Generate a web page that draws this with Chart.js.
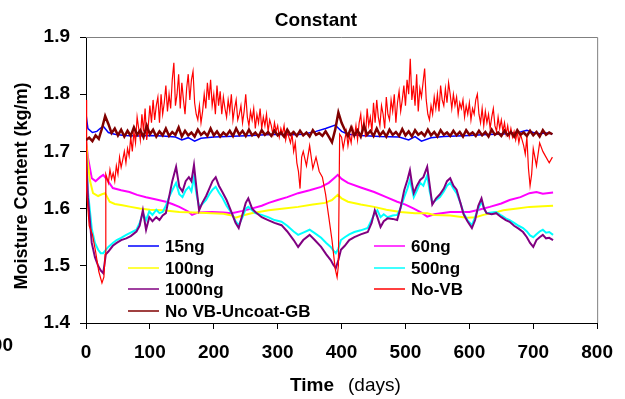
<!DOCTYPE html>
<html>
<head>
<meta charset="utf-8">
<script src="https://cdn.jsdelivr.net/npm/chart.js@4.4.0/dist/chart.umd.min.js"></script>
<style>
  html, body { margin: 0; padding: 0; background: #fff; }
</style>
</head>
<body>
<canvas id="myChart" width="625" height="399"></canvas>
<script>
// values (days, kg/m)
const xTicks = [0, 100, 200, 300, 400, 500, 600, 700, 800];
const yTicks = [1.4, 1.5, 1.6, 1.7, 1.8, 1.9];

// evenly spaced reading days
const grid = (from, to, dx) => Array.from({ length: Math.round((to - from) / dx) + 1 }, (_, i) => from + i * dx);

const days15ng = [
  0, 3, 10, 17, 22, 27, 35, 45, 60, 80,
  100, 120, 140, 150, 160, 170, 180, 200, 220, 240,
  260, 280, 300, 320, 340, 360, 375, 390, 400, 410,
  430, 460, 490, 505, 515, 525, 540, 560, 580, 600,
  620, 640, 660, 680, 690, 700, 710, 720, 730
];
const ng15 = [
  1.765, 1.74, 1.733, 1.735, 1.74, 1.744, 1.733, 1.73, 1.728, 1.727,
  1.728, 1.727, 1.725, 1.72, 1.724, 1.718, 1.723, 1.725, 1.726, 1.727,
  1.728, 1.729, 1.73, 1.729, 1.73, 1.735, 1.74, 1.746, 1.735, 1.73,
  1.728, 1.726, 1.725, 1.72, 1.726, 1.718, 1.724, 1.726, 1.727, 1.728,
  1.729, 1.73, 1.731, 1.734, 1.737, 1.733, 1.731, 1.732, 1.731
];

const days60ng = [
  0, 3, 9, 15, 22, 27, 32, 42, 55, 68,
  80, 94, 110, 125, 135, 146, 160, 166, 175, 197,
  215, 228, 245, 259, 275, 286, 300, 315, 332, 350,
  368, 380, 390, 394, 400, 410, 430, 451, 470, 487,
  500, 513, 525, 534, 545, 570, 585, 600, 615, 632,
  650, 663, 680, 694, 705, 715, 731
];
const ng60 = [
  1.72, 1.69, 1.653, 1.648, 1.655, 1.659, 1.652, 1.636, 1.632, 1.629,
  1.624, 1.62, 1.616, 1.612, 1.608, 1.603, 1.595, 1.589, 1.593, 1.594,
  1.593, 1.592, 1.596, 1.60, 1.605, 1.61, 1.615, 1.62, 1.627, 1.632,
  1.638, 1.645, 1.655, 1.659, 1.652, 1.645, 1.637, 1.629, 1.62, 1.612,
  1.607, 1.60, 1.593, 1.586, 1.59, 1.594, 1.594, 1.594, 1.598, 1.603,
  1.609, 1.615, 1.62, 1.627, 1.629, 1.626, 1.628
];

const days100ng = [
  0, 3, 6, 11, 19, 25, 30, 37, 45, 57,
  70, 84, 100, 120, 146, 170, 197, 215, 228, 234,
  245, 259, 286, 310, 332, 355, 374, 385, 394, 400,
  410, 430, 451, 470, 492, 515, 534, 545, 570, 596,
  610, 622, 640, 653, 675, 694, 715, 731
];
const ng100 = [
  1.72, 1.68, 1.65, 1.627, 1.622, 1.625, 1.627, 1.612, 1.608, 1.606,
  1.603, 1.60, 1.598, 1.597, 1.594, 1.593, 1.592, 1.591, 1.588, 1.584,
  1.588, 1.592, 1.597, 1.60, 1.603, 1.607, 1.61, 1.615, 1.624, 1.618,
  1.612, 1.607, 1.603, 1.598, 1.594, 1.592, 1.592, 1.589, 1.588, 1.584,
  1.585, 1.589, 1.593, 1.597, 1.60, 1.603, 1.604, 1.605
];

// 500ng and 1000ng were read at the same days
const daysTreated = [
  0, 3, 9, 14, 19, 23, 27, 31, 35, 42,
  48, 55, 63, 70, 79, 84, 89, 94, 99, 104,
  110, 115, 120, 125, 130, 135, 141, 146, 151, 156,
  161, 165, 169, 173, 177, 182, 188, 193, 198, 203,
  208, 213, 220, 228, 234, 239, 245, 250, 254, 260,
  265, 275, 285, 295, 306, 315, 325, 332, 340, 350,
  358, 368, 376, 383, 387, 391, 395, 399, 405, 412,
  420, 430, 441, 447, 452, 456, 461, 466, 472, 480,
  487, 492, 498, 503, 507, 510, 513, 518, 523, 528,
  534, 538, 542, 548, 554, 560, 565, 570, 575, 580,
  586, 591, 597, 604, 609, 614, 619, 623, 627, 635,
  642, 650, 657, 663, 670, 677, 684, 690, 695, 700,
  705, 710, 715, 720, 725, 731
];
const ng500 = [
  1.70, 1.63, 1.565, 1.54, 1.528, 1.522, 1.522, 1.528, 1.533, 1.54,
  1.545, 1.549, 1.554, 1.558, 1.563, 1.575, 1.592, 1.58, 1.595, 1.589,
  1.598, 1.592, 1.594, 1.605, 1.62, 1.632, 1.645, 1.625, 1.62, 1.632,
  1.638, 1.63, 1.655, 1.625, 1.603, 1.608, 1.615, 1.625, 1.633, 1.638,
  1.628, 1.62, 1.605, 1.592, 1.578, 1.571, 1.585, 1.60, 1.603, 1.597,
  1.592, 1.589, 1.585, 1.58, 1.577, 1.57, 1.56, 1.554, 1.558, 1.563,
  1.557, 1.549, 1.54, 1.533, 1.527, 1.522, 1.53, 1.545, 1.55, 1.555,
  1.559, 1.562, 1.566, 1.58, 1.592, 1.597, 1.585, 1.59, 1.585, 1.588,
  1.589, 1.60, 1.62, 1.635, 1.65, 1.635, 1.62, 1.632, 1.645, 1.64,
  1.658, 1.63, 1.61, 1.615, 1.62, 1.63, 1.64, 1.645, 1.635, 1.627,
  1.61, 1.592, 1.58, 1.571, 1.585, 1.60, 1.612, 1.60, 1.592, 1.593,
  1.594, 1.588, 1.583, 1.58, 1.575, 1.57, 1.566, 1.56, 1.553, 1.55,
  1.555, 1.56, 1.563, 1.558, 1.559, 1.554
];
const ng1000 = [
  1.70, 1.62, 1.54, 1.515, 1.50, 1.492, 1.487, 1.52, 1.525, 1.535,
  1.54, 1.545, 1.548, 1.552, 1.56, 1.57, 1.597, 1.563, 1.585, 1.578,
  1.585, 1.58, 1.588, 1.592, 1.62, 1.648, 1.673, 1.638, 1.63, 1.648,
  1.655, 1.648, 1.676, 1.635, 1.597, 1.61, 1.622, 1.635, 1.648, 1.655,
  1.64, 1.63, 1.615, 1.593, 1.575, 1.566, 1.59, 1.61, 1.618, 1.60,
  1.594, 1.585, 1.58, 1.575, 1.571, 1.56, 1.545, 1.533, 1.545, 1.554,
  1.545, 1.533, 1.52, 1.51, 1.502, 1.496, 1.51, 1.528, 1.535, 1.545,
  1.55, 1.555, 1.559, 1.575, 1.597, 1.585, 1.568, 1.578, 1.583, 1.582,
  1.58, 1.60, 1.632, 1.65, 1.667, 1.645, 1.627, 1.64, 1.65, 1.655,
  1.673, 1.64, 1.607, 1.618, 1.625, 1.635, 1.648, 1.653, 1.64, 1.633,
  1.61, 1.59, 1.578, 1.566, 1.58, 1.605, 1.618, 1.60, 1.592, 1.59,
  1.592, 1.585, 1.58, 1.577, 1.57, 1.565, 1.559, 1.55, 1.54, 1.533,
  1.545, 1.55, 1.554, 1.548, 1.549, 1.545
];

// No-VB: noisy, read every 2.5 days in the two humps
const noVBStartDays = [0, 1, 5, 10, 15, 20, 25, 28, 30, 31];
const noVBStart = [1.79, 1.63, 1.57, 1.555, 1.525, 1.49, 1.47, 1.48, 1.52, 1.66];

const noVBHump1 = [ // days 32.5 .. 330
  1.655, 1.645, 1.668, 1.652, 1.662, 1.648, 1.675, 1.66, 1.69, 1.672,
  1.685, 1.70, 1.68, 1.705, 1.692, 1.725, 1.70, 1.735, 1.715, 1.76,
  1.74, 1.72, 1.765, 1.735, 1.775, 1.72, 1.745, 1.78, 1.75, 1.79,
  1.755, 1.78, 1.795, 1.75, 1.80, 1.765, 1.785, 1.815, 1.77, 1.80,
  1.775, 1.825, 1.855, 1.78, 1.80, 1.835, 1.775, 1.82, 1.79, 1.765,
  1.81, 1.835, 1.79, 1.825, 1.84, 1.785, 1.765, 1.755, 1.78, 1.75,
  1.77, 1.80, 1.775, 1.82, 1.79, 1.825, 1.78, 1.80, 1.765, 1.815,
  1.78, 1.805, 1.765, 1.795, 1.775, 1.76, 1.79, 1.77, 1.80, 1.755,
  1.775, 1.79, 1.755, 1.765, 1.78, 1.75, 1.77, 1.80, 1.76, 1.745,
  1.77, 1.755, 1.775, 1.74, 1.765, 1.75, 1.775, 1.74, 1.76, 1.745,
  1.765, 1.735, 1.755, 1.745, 1.73, 1.75, 1.735, 1.745, 1.725, 1.74,
  1.73, 1.745, 1.72, 1.735, 1.725, 1.715, 1.73, 1.70, 1.715, 1.68
];

const noVBDipDays = [332.5, 335, 337.5, 340, 345, 350, 355, 360, 365, 370, 375, 380, 385, 390, 393, 395, 397];
const noVBDip = [1.665, 1.635, 1.69, 1.70, 1.675, 1.71, 1.67, 1.69, 1.665, 1.655, 1.625, 1.585, 1.545, 1.495, 1.48, 1.50, 1.73];

const noVBHump2 = [ // days 400 .. 697.5
  1.725, 1.705, 1.72, 1.735, 1.71, 1.728, 1.715, 1.74, 1.725, 1.745,
  1.72, 1.75, 1.765, 1.73, 1.755, 1.725, 1.775, 1.745, 1.76, 1.735,
  1.785, 1.75, 1.79, 1.76, 1.745, 1.78, 1.765, 1.74, 1.795, 1.765,
  1.755, 1.79, 1.77, 1.80, 1.75, 1.785, 1.805, 1.77, 1.79, 1.815,
  1.78, 1.825, 1.80, 1.862, 1.79, 1.815, 1.78, 1.835, 1.77, 1.81,
  1.795, 1.82, 1.845, 1.79, 1.765, 1.755, 1.78, 1.765, 1.795, 1.775,
  1.80, 1.77, 1.815, 1.79, 1.78, 1.81, 1.785, 1.82, 1.80, 1.775,
  1.80, 1.78, 1.795, 1.765, 1.785, 1.775, 1.79, 1.76, 1.78, 1.765,
  1.785, 1.755, 1.775, 1.765, 1.79, 1.80, 1.765, 1.75, 1.775, 1.745,
  1.77, 1.75, 1.765, 1.74, 1.76, 1.775, 1.745, 1.735, 1.76, 1.74,
  1.755, 1.735, 1.75, 1.73, 1.745, 1.725, 1.74, 1.725, 1.735, 1.72,
  1.735, 1.715, 1.73, 1.72, 1.71, 1.695, 1.725, 1.67, 1.64, 1.66
];

const noVBEndDays = [700, 705, 710, 715, 720, 725, 730];
const noVBEnd = [1.705, 1.675, 1.715, 1.70, 1.69, 1.68, 1.69];

const daysNoVB = [...noVBStartDays, ...grid(32.5, 330, 2.5), ...noVBDipDays, ...grid(400, 697.5, 2.5), ...noVBEndDays];
const noVB = [...noVBStart, ...noVBHump1, ...noVBDip, ...noVBHump2, ...noVBEnd];

// uncoated run, read every 5 days
const daysUncoat = grid(0, 730, 5);
const noVBUncoat = [
  1.72, 1.724, 1.718, 1.728, 1.722, 1.74, 1.762, 1.748, 1.732, 1.74,
  1.728, 1.738, 1.726, 1.736, 1.727, 1.742, 1.729, 1.737, 1.725, 1.745,
  1.73, 1.738, 1.726, 1.735, 1.728, 1.74, 1.727, 1.734, 1.729, 1.742,
  1.726, 1.736, 1.728, 1.733, 1.726, 1.738, 1.729, 1.734, 1.727, 1.74,
  1.728, 1.735, 1.726, 1.733, 1.728, 1.736, 1.727, 1.74, 1.729, 1.736,
  1.727, 1.738, 1.728, 1.733, 1.726, 1.737, 1.729, 1.734, 1.727, 1.736,
  1.728, 1.733, 1.726, 1.738, 1.729, 1.734, 1.727, 1.736, 1.728, 1.733,
  1.726, 1.737, 1.729, 1.732, 1.727, 1.735, 1.726, 1.716, 1.738, 1.768,
  1.75, 1.738, 1.727, 1.742, 1.728, 1.737, 1.726, 1.745, 1.729, 1.736,
  1.727, 1.74, 1.728, 1.735, 1.726, 1.738, 1.729, 1.734, 1.727, 1.739,
  1.728, 1.735, 1.726, 1.737, 1.729, 1.733, 1.727, 1.738, 1.728, 1.734,
  1.726, 1.737, 1.729, 1.733, 1.727, 1.736, 1.728, 1.734, 1.726, 1.737,
  1.729, 1.733, 1.727, 1.736, 1.728, 1.734, 1.726, 1.738, 1.729, 1.733,
  1.727, 1.736, 1.728, 1.734, 1.726, 1.737, 1.729, 1.733, 1.727, 1.736,
  1.728, 1.734, 1.726, 1.737, 1.729, 1.733, 1.73
];

const pts = (xs, ys) => xs.map((x, i) => ({ x: x, y: ys[i] }));

function series(label, xs, ys, color, width, order) {
  return {
    label: label,
    data: pts(xs, ys),
    borderColor: color,
    backgroundColor: color,
    borderWidth: width,
    pointRadius: 0,
    tension: 0,
    order: order
  };
}

const datasets = [
  series('15ng', days15ng, ng15, '#0000ff', 1.5, 6),
  series('60ng', days60ng, ng60, '#ff00ff', 2, 5),
  series('100ng', days100ng, ng100, '#ffff00', 2, 4),
  series('500ng', daysTreated, ng500, '#00ffff', 2, 3),
  series('1000ng', daysTreated, ng1000, '#800080', 2, 2),
  series('No-VB', daysNoVB, noVB, '#ff0000', 1.2, 1),
  series('No VB-Uncoat-GB', daysUncoat, noVBUncoat, '#800000', 2.5, 0)
];

const tickFont = { family: 'Arial, "Liberation Sans", sans-serif', size: 19, weight: 'bold' };

// legend laid out like the original: two columns inside the plot
const legendSlots = [
  { x: 128, y: 246 }, { x: 374, y: 246 },
  { x: 128, y: 268 }, { x: 374, y: 268 },
  { x: 128, y: 289 }, { x: 374, y: 289 },
  { x: 128, y: 311 }
];

const decor = {
  id: 'decor',
  afterDraw(chart) {
    const ctx = chart.ctx;
    const a = chart.chartArea;
    ctx.save();

    // box round the plot (top and right in grey)
    ctx.strokeStyle = '#808080';
    ctx.lineWidth = 1;
    ctx.beginPath();
    ctx.moveTo(a.left, a.top + 0.5);
    ctx.lineTo(a.right + 0.5, a.top + 0.5);
    ctx.lineTo(a.right + 0.5, a.bottom);
    ctx.stroke();

    // legend
    ctx.font = 'bold 17px Arial, "Liberation Sans", sans-serif';
    ctx.textBaseline = 'middle';
    ctx.textAlign = 'left';
    datasets.forEach((ds, i) => {
      const s = legendSlots[i];
      ctx.strokeStyle = ds.borderColor;
      ctx.lineWidth = 1.5;
      ctx.beginPath();
      ctx.moveTo(s.x, s.y);
      ctx.lineTo(s.x + 31, s.y);
      ctx.stroke();
      ctx.fillStyle = '#000';
      ctx.fillText(ds.label, s.x + 37, s.y + 1);
    });

    // title
    ctx.fillStyle = '#000';
    ctx.textAlign = 'center';
    ctx.font = 'bold 19px Arial, "Liberation Sans", sans-serif';
    ctx.fillText('Constant', 316, 21);

    // x axis title, mixed weight
    ctx.textAlign = 'left';
    ctx.fillText('Time', 290, 386);
    ctx.font = '19px Arial, "Liberation Sans", sans-serif';
    ctx.fillText('(days)', 348, 386);

    // leftover label at the far left edge
    ctx.font = 'bold 19px Arial, "Liberation Sans", sans-serif';
    ctx.textAlign = 'right';
    ctx.fillText('00', 13, 346);

    // y axis title, cut by the left edge
    ctx.save();
    ctx.beginPath();
    ctx.rect(13, 0, 60, 399);
    ctx.clip();
    ctx.translate(22, 186);
    ctx.rotate(-Math.PI / 2);
    ctx.textAlign = 'center';
    ctx.font = 'bold 18px Arial, "Liberation Sans", sans-serif';
    ctx.fillText('Moisture Content (kg/m)', 0, 0);
    ctx.restore();

    ctx.restore();
  }
};

new Chart(document.getElementById('myChart'), {
  type: 'line',
  data: { datasets: datasets },
  options: {
    responsive: false,
    animation: false,
    devicePixelRatio: 1,
    layout: { padding: { top: 37, right: 23, left: 0, bottom: 0 } },
    plugins: {
      legend: { display: false },
      title: { display: false },
      tooltip: { enabled: false }
    },
    scales: {
      x: {
        type: 'linear',
        min: xTicks[0],
        max: xTicks[xTicks.length - 1],
        afterBuildTicks: (s) => { s.ticks = xTicks.map(v => ({ value: v })); },
        ticks: { font: tickFont, color: '#000', padding: 12, maxRotation: 0, autoSkip: false },
        grid: { drawOnChartArea: false, tickLength: 6, color: '#000' },
        border: { display: true, color: '#000', width: 1 },
        afterFit: (s) => { s.height = 76; }
      },
      y: {
        min: yTicks[0],
        max: yTicks[yTicks.length - 1],
        afterBuildTicks: (s) => { s.ticks = yTicks.map(v => ({ value: v })); },
        ticks: { font: tickFont, color: '#000', padding: 10, callback: (v) => v.toFixed(1) },
        grid: { drawOnChartArea: false, tickLength: 6, color: '#000' },
        border: { display: true, color: '#000', width: 1 },
        afterFit: (s) => { s.width = 86; }
      }
    }
  },
  plugins: [decor]
});
</script>
</body>
</html>
